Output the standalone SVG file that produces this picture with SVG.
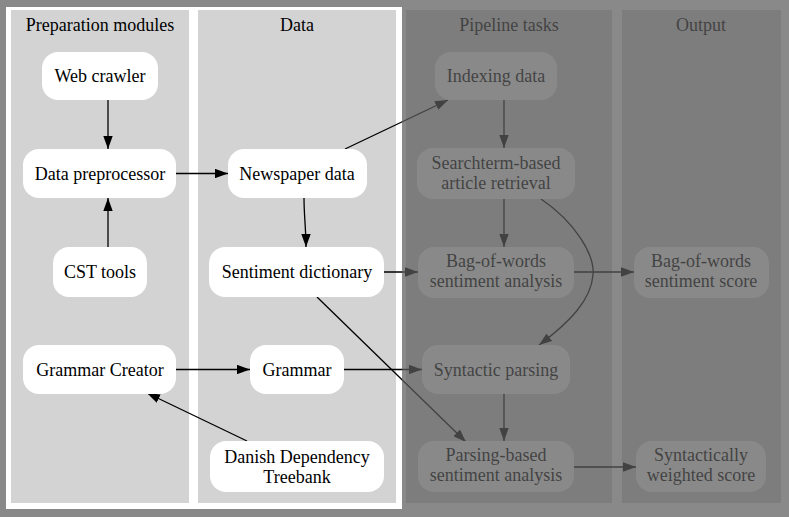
<svg xmlns="http://www.w3.org/2000/svg" width="789" height="517" viewBox="0 0 789 517">
<style>
.cl{fill:#d3d3d3}
.nd{fill:#ffffff}
text{font-family:"Liberation Serif","Times New Roman",serif;font-size:18px;fill:#000;text-anchor:middle}
.e{fill:none;stroke:#000;stroke-width:1.3}
</style>
<defs>
<marker id="ah" markerUnits="userSpaceOnUse" viewBox="0 0 13 9.4" refX="13" refY="4.7" markerWidth="13" markerHeight="9.4" orient="auto">
<path d="M0,0 L13,4.7 L0,9.4 Z" fill="#000"/>
</marker>
</defs>
<rect width="789" height="517" fill="#fff"/>
<g id="clusters">
<g id="cluster-prep"><rect class="cl" x="11" y="10" width="178" height="493"/><text x="100" y="31">Preparation modules</text></g>
<g id="cluster-data"><rect class="cl" x="198" y="10" width="198" height="493"/><text x="297" y="31">Data</text></g>
<g id="cluster-pipeline"><rect class="cl" x="406" y="10" width="206" height="493"/><text x="509" y="31">Pipeline tasks</text></g>
<g id="cluster-output"><rect class="cl" x="622" y="10" width="159" height="493"/><text x="701" y="31">Output</text></g>
</g>
<g id="connectors">
<path class="e" marker-end="url(#ah)" d="M108,100 L108,149"/>
<path class="e" marker-end="url(#ah)" d="M108,247 L108,198"/>
<path class="e" marker-end="url(#ah)" d="M176,173.5 L228,173.5"/>
<path class="e" marker-end="url(#ah)" d="M345,149 L448,100"/>
<path class="e" marker-end="url(#ah)" d="M304,198 C304,215 306,230 306,247"/>
<path class="e" marker-end="url(#ah)" d="M384,272 L418,272"/>
<path class="e" marker-end="url(#ah)" d="M317,297 L466,442"/>
<path class="e" marker-end="url(#ah)" d="M176,369.5 L250,369.5"/>
<path class="e" marker-end="url(#ah)" d="M344,369.5 L422,369.5"/>
<path class="e" marker-end="url(#ah)" d="M247,441 L147,393"/>
<path class="e" marker-end="url(#ah)" d="M504,100 L504,148"/>
<path class="e" marker-end="url(#ah)" d="M504,199 L504,247"/>
<path class="e" marker-end="url(#ah)" d="M541,199 C575,222 595,255 593,275 C591,300 570,322 539,345"/>
<path class="e" marker-end="url(#ah)" d="M574,272 L634,272"/>
<path class="e" marker-end="url(#ah)" d="M504,394 L504,441"/>
<path class="e" marker-end="url(#ah)" d="M574,467 L636,467"/>
</g>
<g id="web-crawler"><rect class="nd" x="42" y="52" width="116" height="48" rx="16"/><text x="100" y="82">Web crawler</text></g>
<g id="data-preprocessor"><rect class="nd" x="23" y="149" width="153" height="49" rx="16"/><text x="100" y="180">Data preprocessor</text></g>
<g id="cst-tools"><rect class="nd" x="53" y="247" width="94" height="50" rx="16"/><text x="100" y="278">CST tools</text></g>
<g id="grammar-creator"><rect class="nd" x="23" y="345" width="153" height="49" rx="16"/><text x="100" y="376">Grammar Creator</text></g>
<g id="newspaper-data"><rect class="nd" x="228" y="149" width="139" height="49" rx="16"/><text x="297" y="180">Newspaper data</text></g>
<g id="sentiment-dictionary"><rect class="nd" x="209" y="247" width="175" height="50" rx="16"/><text x="297" y="278">Sentiment dictionary</text></g>
<g id="grammar"><rect class="nd" x="250" y="345" width="94" height="49" rx="16"/><text x="297" y="376">Grammar</text></g>
<g id="danish-dependency-treebank"><rect class="nd" x="210" y="441" width="174" height="51" rx="16"/><text x="297" y="463">Danish Dependency</text><text x="297" y="483">Treebank</text></g>
<g id="indexing-data"><rect class="nd" x="435" y="52" width="122" height="48" rx="16"/><text x="496" y="82">Indexing data</text></g>
<g id="searchterm-retrieval"><rect class="nd" x="417" y="148" width="158" height="51" rx="16"/><text x="496" y="169">Searchterm-based</text><text x="496" y="189">article retrieval</text></g>
<g id="bow-analysis"><rect class="nd" x="418" y="247" width="156" height="51" rx="16"/><text x="496" y="267">Bag-of-words</text><text x="496" y="287">sentiment analysis</text></g>
<g id="syntactic-parsing"><rect class="nd" x="422" y="345" width="148" height="49" rx="16"/><text x="496" y="376">Syntactic parsing</text></g>
<g id="parsing-analysis"><rect class="nd" x="418" y="441" width="156" height="51" rx="16"/><text x="496" y="461">Parsing-based</text><text x="496" y="481">sentiment analysis</text></g>
<g id="bow-score"><rect class="nd" x="634" y="247" width="135" height="51" rx="16"/><text x="701" y="267">Bag-of-words</text><text x="701" y="287">sentiment score</text></g>
<g id="weighted-score"><rect class="nd" x="636" y="441" width="130" height="51" rx="16"/><text x="701" y="461">Syntactically</text><text x="701" y="481">weighted score</text></g>
<path id="dim-overlay" fill="#5c5c5c" fill-opacity="0.72" fill-rule="evenodd" d="M0,0H789V517H0Z M6,7H402V509H6Z"/>
</svg>
